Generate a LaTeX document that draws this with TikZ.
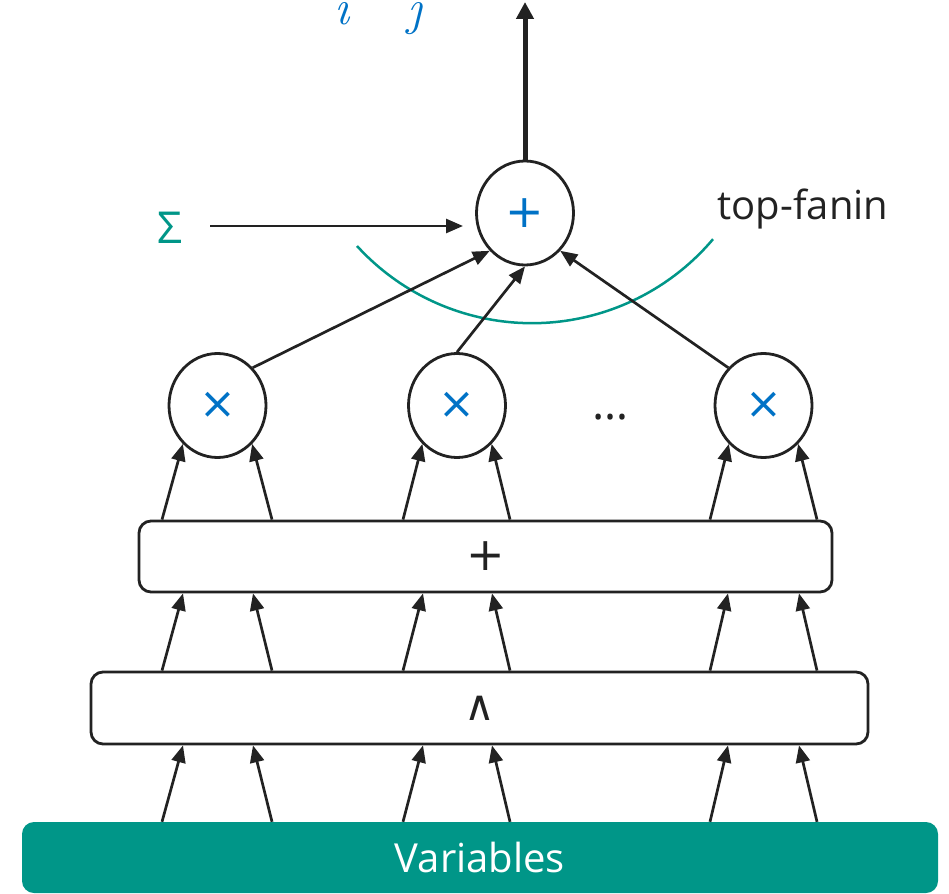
\documentclass[tikz,border=0pt]{standalone}
\usepackage{fontspec}
\setmainfont{Open Sans}
\newfontfamily\dvs{DejaVu Sans}
\newfontfamily\lmr{Latin Modern Roman}
\usetikzlibrary{arrows.meta,shapes.geometric}
\definecolor{tealc}{RGB}{0,150,136}
\definecolor{bluec}{RGB}{0,114,198}
\definecolor{darkc}{RGB}{34,34,34}
\begin{document}
\begin{tikzpicture}[x=1pt,y=-1pt,
  circ/.style={ellipse,draw=darkc,line width=2.8pt,minimum width=97pt,minimum height=104pt,inner sep=0pt,text=bluec},
  boxc/.style={rectangle,draw=darkc,line width=2.8pt,rounded corners=12pt,inner sep=0pt},
  arr/.style={draw=darkc,line width=2.7pt,-{Triangle[length=17pt,width=14pt]}},
  bigtxt/.style={font=\fontsize{40}{48}\selectfont}]
\useasboundingbox (0,0) rectangle (949,893);
% formula fragments at top (cut off)
\node[anchor=base,text=bluec,font=\lmr\itshape\fontsize{50}{56}\selectfont] (si) at (342,25) {i};
\node[anchor=base,text=bluec,font=\lmr\itshape\fontsize{50}{56}\selectfont] (sj) at (415,25) {j};
% top sum gate
\node[circ,font=\dvs\fontsize{46}{50}\selectfont] (top) at (525,213) {+};
\coordinate (outtip) at (525,2);
\draw[draw=darkc,line width=5pt,-{Triangle[length=17pt,width=17pt]}] (top.north) -- (outtip);
% Sigma label
\node[text=tealc,font=\fontsize{44}{50}\selectfont] (sigma) at (170,228) {Σ};
\coordinate (sigS) at (210,226);
\coordinate (sigE) at (463,226);
\draw[arr] (sigS) -- (sigE);
% top-fanin arc
\draw[tealc,line width=2.5pt] (357,246) arc[start angle=137.6,end angle=40.2,radius=237];
\node[bigtxt,text=darkc,anchor=base west] (fanin) at (714,219) {top-fanin};
% product gates
\node[circ,font=\dvs\fontsize{44}{50}\selectfont] (m1) at (217.5,405.5) {×};
\node[circ,font=\dvs\fontsize{44}{50}\selectfont] (m2) at (457,405.5) {×};
\node[circ,font=\dvs\fontsize{44}{50}\selectfont] (m3) at (763.5,405.5) {×};
\node[text=darkc,font=\fontsize{46}{50}\selectfont,anchor=base] (dots) at (611,419) {…};
\draw[arr] (m1.47) -- (top.227);
\draw[arr] (m2.north) -- (top.south);
\draw[arr] (m3.133) -- (top.313);
% boxes
\node[boxc,minimum width=693pt,minimum height=71pt,font=\dvs\fontsize{46}{50}\selectfont,text=darkc] (plusbox) at (485.5,556.5) {+};
\node[boxc,minimum width=777pt,minimum height=72pt,font=\dvs\fontsize{42}{50}\selectfont,text=darkc] (andbox) at (479.5,708) {∧};
\node[rectangle,fill=tealc,rounded corners=12pt,minimum width=916pt,minimum height=71pt,inner sep=0pt,text=white,font=\fontsize{40}{48}\selectfont] (varbox) at (480,857.5) {Variables};
% columns
\foreach \n/\x in {1/162,2/272,3/403,4/510,5/710,6/817}{\coordinate (a\n) at (\x,0);}
\foreach \n/\x in {1/183,2/253,3/423,4/492,5/728,6/799}{\coordinate (b\n) at (\x,0);}
% box to box arrows
\foreach \n in {1,...,6}{
  \draw[arr] (varbox.north -| a\n) -- (andbox.south -| b\n);
  \draw[arr] (andbox.north -| a\n) -- (plusbox.south -| b\n);
}
% plus box to product gates
\draw[arr] (plusbox.north -| a1) -- (m1.228);
\draw[arr] (plusbox.north -| a2) -- (m1.312);
\draw[arr] (plusbox.north -| a3) -- (m2.228);
\draw[arr] (plusbox.north -| a4) -- (m2.312);
\draw[arr] (plusbox.north -| a5) -- (m3.228);
\draw[arr] (plusbox.north -| a6) -- (m3.312);
\end{tikzpicture}
\end{document}
